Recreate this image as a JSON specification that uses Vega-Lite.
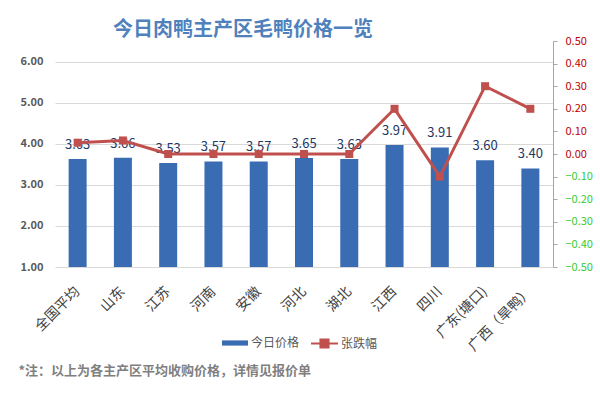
{
  "$schema": "https://vega.github.io/schema/vega-lite/v6.json",
  "width": 498,
  "height": 226,
  "autosize": {"type": "none"},
  "padding": {"left": 55, "top": 41, "right": 47, "bottom": 126},
  "background": "white",
  "config": {"font": "Noto Sans CJK SC", "view": {"stroke": null}},
  "title": {
    "text": "今日肉鸭主产区毛鸭价格一览",
    "fontSize": 20,
    "fontWeight": "bold",
    "color": "#4F81BD",
    "anchor": "middle",
    "frame": "group",
    "dx": -61,
    "dy": 5,
    "offset": 0
  },
  "data": {
    "values": [
      {"region": "全国平均", "price": 3.63, "change": 0.05},
      {"region": "山东", "price": 3.66, "change": 0.06},
      {"region": "江苏", "price": 3.53, "change": 0.0},
      {"region": "河南", "price": 3.57, "change": 0.0},
      {"region": "安徽", "price": 3.57, "change": 0.0},
      {"region": "河北", "price": 3.65, "change": 0.0},
      {"region": "湖北", "price": 3.63, "change": 0.0},
      {"region": "江西", "price": 3.97, "change": 0.2},
      {"region": "四川", "price": 3.91, "change": -0.1},
      {"region": "广东(塘口)", "price": 3.6, "change": 0.3},
      {"region": "广西（旱鸭）", "price": 3.4, "change": 0.2}
    ]
  },
  "encoding": {
    "x": {
      "field": "region",
      "type": "nominal",
      "sort": null,
      "scale": {"paddingInner": 0, "paddingOuter": 0},
      "axis": {
        "labelAngle": -45,
        "labelAlign": "right",
        "labelBaseline": "middle",
        "labelFontSize": 14,
        "labelColor": "#404040",
        "labelPadding": 22,
        "ticks": false,
        "domain": false,
        "title": "*注：以上为各主产区平均收购价格，详情见报价单",
        "titleX": -37,
        "titleY": 103,
        "titleAlign": "left",
        "titleAnchor": "start",
        "titleBaseline": "middle",
        "titleFontSize": 13,
        "titleFontWeight": "bold",
        "titleColor": "#7F7F7F"
      }
    }
  },
  "layer": [
    {
      "encoding": {
        "y": {
          "field": "price",
          "type": "quantitative",
          "scale": {"domain": [1, 6.5], "zero": false, "nice": false},
          "axis": {
            "values": [1, 2, 3, 4, 5, 6],
            "format": ".2f",
            "title": null,
            "domain": false,
            "ticks": false,
            "labelPadding": 12,
            "labelFontSize": 11,
            "labelFontWeight": "bold",
            "labelColor": "#595959",
            "gridColor": "#D9D9D9"
          }
        }
      },
      "layer": [
        {
          "mark": {"type": "bar", "width": 18},
          "encoding": {
            "y2": {"datum": 1},
            "color": {
              "datum": "今日价格",
              "type": "nominal",
              "scale": {"range": ["#3A6CB3"]},
              "legend": {
                "orient": "none",
                "legendX": 166,
                "legendY": 288,
                "title": null,
                "symbolType": "M-1,-0.2H1V0.2H-1Z",
                "symbolSize": 676,
                "labelFontSize": 12,
                "labelColor": "#595959",
                "labelOffset": 2
              }
            }
          }
        },
        {
          "mark": {"type": "text", "dy": -14, "fontSize": 13, "color": "#1F3864", "baseline": "middle"},
          "encoding": {"text": {"field": "price", "type": "quantitative", "format": ".2f"}}
        }
      ]
    },
    {
      "encoding": {
        "y": {
          "field": "change",
          "type": "quantitative",
          "scale": {"domain": [-0.5, 0.5], "nice": false},
          "axis": {
            "orient": "right",
            "values": [-0.5, -0.4, -0.3, -0.2, -0.1, 0, 0.1, 0.2, 0.3, 0.4, 0.5],
            "format": ".2f",
            "title": null,
            "grid": false,
            "domain": true,
            "domainColor": "#A6A6A6",
            "ticks": true,
            "tickColor": "#A6A6A6",
            "tickSize": 4,
            "labelPadding": 8,
            "labelFontSize": 11,
            "labelColor": {"condition": {"test": "datum.value < 0", "value": "#33CC33"}, "value": "#C00000"}
          }
        }
      },
      "layer": [
        {
          "mark": {"type": "line", "strokeWidth": 3},
          "encoding": {
            "stroke": {
              "datum": "张跌幅",
              "type": "nominal",
              "scale": {"range": ["#C0504D"]},
              "legend": {
                "orient": "none",
                "legendX": 255,
                "legendY": 288,
                "title": null,
                "symbolType": "M-1,0H1M-0.3,-0.3H0.3V0.3H-0.3Z",
                "symbolSize": 729,
                "symbolStrokeWidth": 2,
                "symbolFillColor": "#C0504D",
                "labelFontSize": 12,
                "labelColor": "#595959",
                "labelOffset": 2
              }
            }
          }
        },
        {
          "mark": {"type": "point", "shape": "square", "filled": true, "size": 64, "color": "#C0504D", "opacity": 1}
        }
      ]
    }
  ],
  "resolve": {"scale": {"y": "independent"}}
}
